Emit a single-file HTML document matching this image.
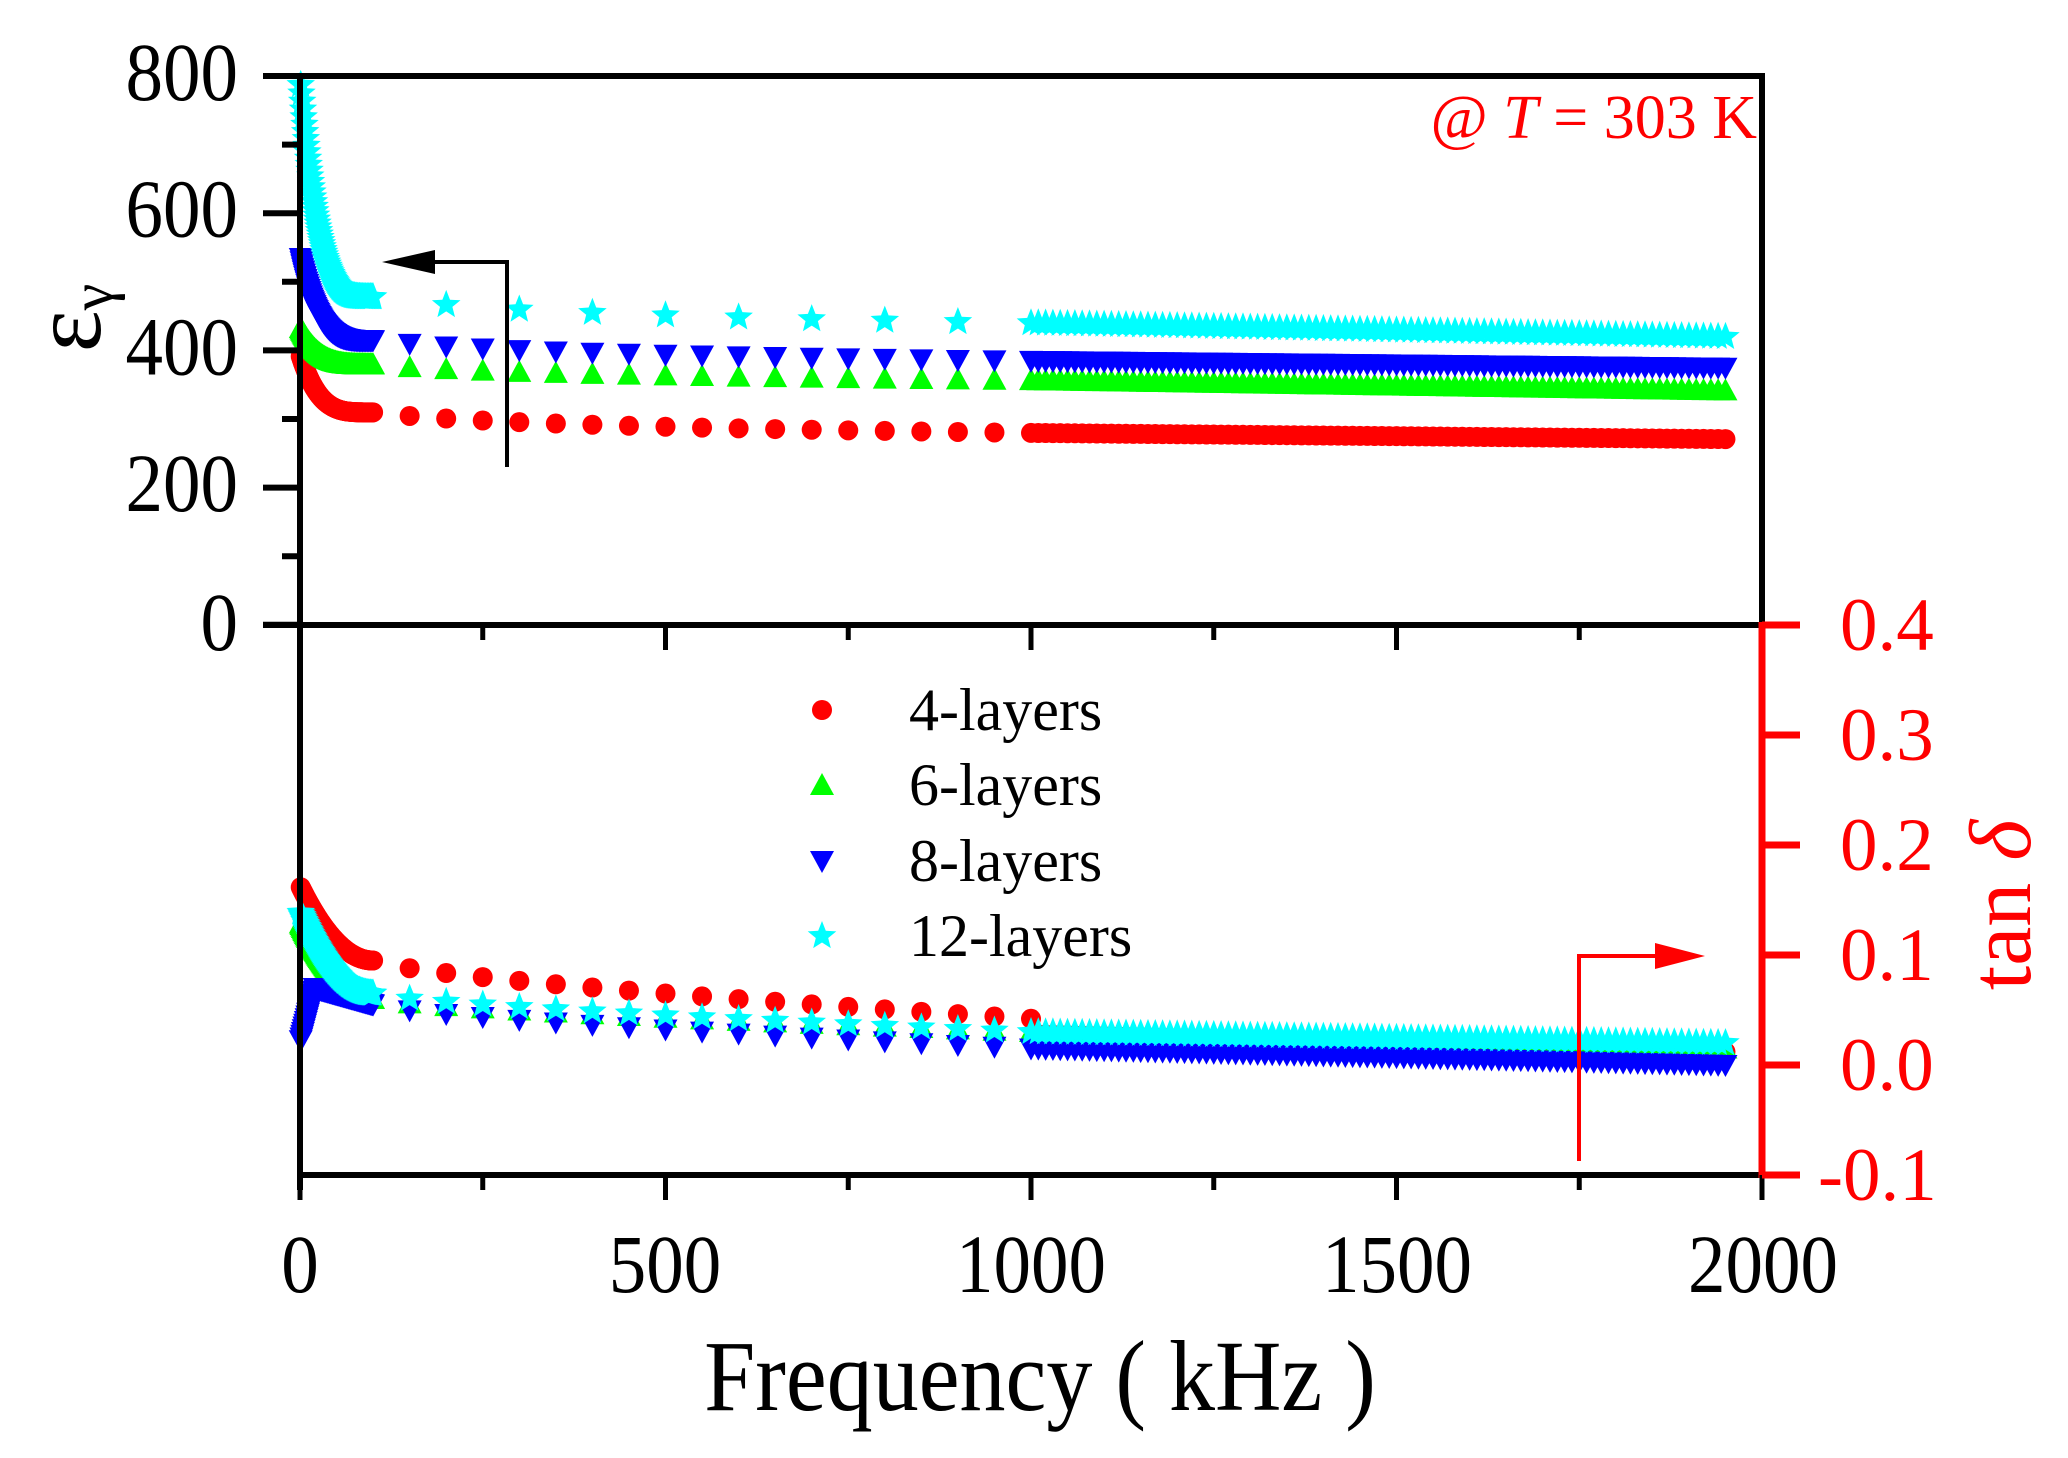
<!DOCTYPE html>
<html><head><meta charset="utf-8"><style>
html,body{margin:0;padding:0;background:#fff;}
svg{display:block;}
text{font-family:"Liberation Serif",serif;}
</style></head><body>
<svg id="s" width="2068" height="1458" viewBox="0 0 2068 1458" xmlns="http://www.w3.org/2000/svg">
<rect width="2068" height="1458" fill="#fff"/>
<g id="data"></g>
<g stroke="#000" stroke-width="6" fill="none">
<line x1="300" y1="76" x2="1762" y2="76"/>
<line x1="300" y1="73" x2="300" y2="1190"/>
<line x1="1762" y1="73" x2="1762" y2="625"/>
<line x1="263" y1="625" x2="1762" y2="625"/>
<line x1="297" y1="1175" x2="1762" y2="1175"/>
</g>
<g stroke="#f00" stroke-width="7"><line x1="1762" y1="622" x2="1762" y2="1178"/></g>
<g id="ticks"></g>
<g font-size="75" fill="#000" text-anchor="end">
<text x="238" y="100" transform="translate(0,-10) scale(1,1.1)">800</text>
<text x="238" y="237" transform="translate(0,-24) scale(1,1.1)">600</text>
<text x="238" y="374" transform="translate(0,-37) scale(1,1.1)">400</text>
<text x="238" y="511" transform="translate(0,-51) scale(1,1.1)">200</text>
<text x="238" y="650" transform="translate(0,-65) scale(1,1.1)">0</text>
</g>
<g font-size="75" fill="#000" text-anchor="middle" transform="translate(0,-129) scale(1,1.1)">
<text x="300" y="1292">0</text><text x="665" y="1292">500</text><text x="1031" y="1292">1000</text><text x="1397" y="1292">1500</text><text x="1763" y="1292">2000</text>
</g>
<g font-size="75" fill="#f00">
<text x="1840" y="650">0.4</text><text x="1840" y="760">0.3</text><text x="1840" y="870">0.2</text><text x="1840" y="980">0.1</text><text x="1840" y="1090">0.0</text><text x="1818" y="1200">-0.1</text>
</g>
<text x="1040" y="1410" font-size="92" text-anchor="middle" fill="#000" transform="translate(0,-141) scale(1,1.1)">Frequency ( kHz )</text>
<text transform="translate(100,318) rotate(-90)" font-size="100" text-anchor="middle" fill="#000">ε<tspan font-size="60" dy="12">γ</tspan></text>
<text transform="translate(2030,905) rotate(-90)" font-size="88" text-anchor="middle" fill="#f00">tan <tspan font-style="italic">δ</tspan></text>
<text x="1757" y="138" font-size="62" text-anchor="end" fill="#f00">@ <tspan font-style="italic">T</tspan> = 303 K</text>
<polyline points="507,467 507,262 430,262" fill="none" stroke="#000" stroke-width="4"/>
<polygon points="382,262 435,250 435,274" fill="#000"/>
<polyline points="1579,1161 1579,956 1660,956" fill="none" stroke="#f00" stroke-width="4"/>
<polygon points="1705,956 1655,943 1655,969" fill="#f00"/>
<g font-size="60" fill="#000">
<text x="909" y="730">4-layers</text><text x="909" y="805">6-layers</text><text x="909" y="881">8-layers</text><text x="909" y="956">12-layers</text>
</g>
<g id="leg"></g>
</svg>
<script>
var NS="http://www.w3.org/2000/svg";
function el(n,a,p){var e=document.createElementNS(NS,n);for(var k in a)e.setAttribute(k,a[k]);p.appendChild(e);return e;}
var T=document.getElementById("ticks");
function ln(x1,y1,x2,y2,c,w){el("line",{x1:x1,y1:y1,x2:x2,y2:y2,stroke:c,"stroke-width":w},T);}
for(var i=0;i<=8;i++){var y=76+i*68.6;ln(i%2?282:263,y,300,y,"#000",6);}
for(var i=0;i<=8;i++){var x=300+i*182.75;var maj=i%2==0;
 if(i>0&&i<8){ln(x,625,x,maj?650:640,"#000",5);}
 ln(x,1175,x,maj?1200:1190,"#000",5);}
for(var i=0;i<=5;i++){var y=625+i*110;ln(1762,y,1800,y,"#f00",7);}
function X(f){return 300+f*0.731;}
function mk(type,x,y,c,p,s){s=s||1;
 if(type==0)el("circle",{cx:x,cy:y,r:10*s,fill:c},p);
 else if(type==1)el("polygon",{points:(x-12*s)+","+(y+10*s)+" "+(x+12*s)+","+(y+10*s)+" "+x+","+(y-12*s),fill:c},p);
 else if(type==2)el("polygon",{points:(x-12*s)+","+(y-10*s)+" "+(x+12*s)+","+(y-10*s)+" "+x+","+(y+12*s),fill:c},p);
 else{var pts=[];for(var k=0;k<10;k++){var r=k%2?6.5*s:15*s,a=-Math.PI/2+k*Math.PI/5;pts.push((x+r*Math.cos(a)).toFixed(1)+","+(y+r*Math.sin(a)).toFixed(1));}el("polygon",{points:pts.join(" "),fill:c},p);}}
var D=document.getElementById("data");
var cols=["#f00","#0f0","#00f","#0ff"];
var E=[[395,310,280,271],[435,380,357,342],[540,415,385,375],[800,478,440,420]];
function eps(s,f){var e=E[s];
 if(f<100){var u=1-f/100;return e[1]+(e[0]-e[1])*Math.pow(u,4);}
 if(f<=1000)return e[1]+(e[2]-e[1])*Math.log10(f/100);
 return e[2]+(e[3]-e[2])*(f-1000)/950;}
var TD=[[0.163,0.095,0.042,0.012],[0.13,0.06,0.03,0.015],[0.02,0.055,0.015,0.0],[0.14,0.065,0.03,0.02]];
function tan(s,f){var t=TD[s];
 if(f<100){if(s==2){if(f<20)return 0.02+0.05*f/20;return 0.07-0.015*(f-20)/80;}var u=1-f/100;return t[1]+(t[0]-t[1])*Math.pow(u,2);}
 if(f<=1000)return t[1]+(t[2]-t[1])*Math.pow((f-100)/900,0.7);
 if(s==0)return 0.028-0.016*(f-1000)/950;
 return t[2]+(t[3]-t[2])*(f-1000)/950;}
function freqs(s,up){var a=[];for(var f=1;f<=100;f+=1)a.push(f);
 var st=(up&&s==3)?100:50;for(var f=(up&&s==3)?200:150;f<=950;f+=st)a.push(f);
 for(var f=1000;f<=1950;f+=10)a.push(f);return a;}
for(var s=0;s<4;s++){freqs(s,true).forEach(function(f){mk(s,X(f),625-eps(s,f)*0.686,cols[s],D);});}
for(var s=0;s<4;s++){freqs(s,false).forEach(function(f){mk(s,X(f),1065-tan(s,f)*1100,cols[s],D);});}
var L=document.getElementById("leg");
mk(0,822,710,"#f00",L);mk(1,822,785,"#0f0",L);mk(2,822,861,"#00f",L);mk(3,822,936,"#0ff",L);
</script>
</body></html>
